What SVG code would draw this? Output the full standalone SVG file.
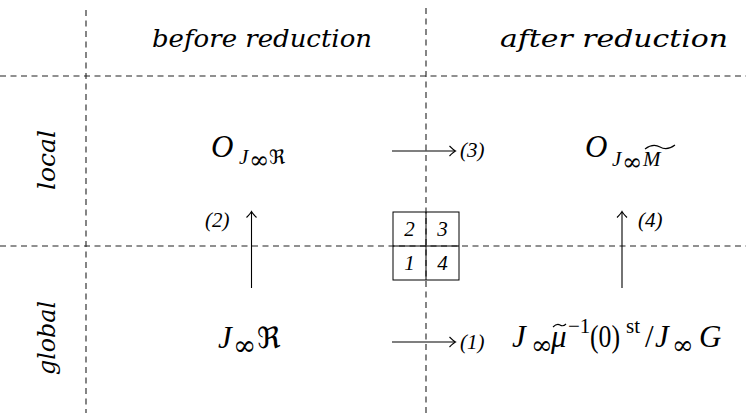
<svg xmlns="http://www.w3.org/2000/svg" width="746" height="413" viewBox="0 0 746 413">
<style>
.dash{stroke:#222;stroke-width:1.1;stroke-dasharray:6 4.5;fill:none}
.hdr{font-family:"DejaVu Serif","Liberation Serif",serif;font-style:italic;font-size:24px;fill:#000}
.m{font-family:"Liberation Serif","DejaVu Serif",serif;font-style:italic;font-size:31px;fill:#000}
.s{font-family:"Liberation Serif","DejaVu Serif",serif;font-style:italic;font-size:21px;fill:#000}
.r{font-family:"Liberation Serif","DejaVu Serif",serif;font-style:normal;font-size:31px;fill:#000}
.rs{font-family:"Liberation Serif","DejaVu Serif",serif;font-style:normal;font-size:21px;fill:#000}
.inf{font-family:"DejaVu Serif",serif;font-style:normal;fill:#000}
.fr{font-family:"DejaVu Serif","DejaVu Sans",serif;font-style:normal;fill:#000}
.lbl{font-family:"Liberation Serif","DejaVu Serif",serif;font-style:italic;font-size:21px;fill:#000}
.arr{stroke:#000;stroke-width:1.1;fill:none;marker-end:url(#to)}
.box{stroke:#000;stroke-width:1;fill:none}
.til{stroke:#000;stroke-width:1.1;fill:none}
</style>
<defs>
<marker id="to" viewBox="-7 -7 9 14" markerWidth="9" markerHeight="14" refX="0" refY="0" orient="auto" markerUnits="userSpaceOnUse">
<path d="M-5.5,-5 Q-1.5,-1 0.5,0 Q-1.5,1 -5.5,5" stroke="#000" stroke-width="1.1" fill="none"/>
</marker>
</defs>
<g id="grid">
<line class="dash" x1="86" y1="10" x2="86" y2="413"/>
<line class="dash" x1="426" y1="8" x2="426" y2="413"/>
<line class="dash" x1="0" y1="76" x2="746" y2="76"/>
<line class="dash" x1="0" y1="246" x2="746" y2="246"/>
</g>
<g id="headers">
<text class="hdr" x="152" y="47" textLength="220" lengthAdjust="spacingAndGlyphs">before reduction</text>
<text class="hdr" x="500" y="47" textLength="228" lengthAdjust="spacingAndGlyphs">after reduction</text>
<text class="hdr" transform="translate(55,160) rotate(-90)" text-anchor="middle" textLength="60" lengthAdjust="spacingAndGlyphs">local</text>
<text class="hdr" transform="translate(55,338) rotate(-90)" text-anchor="middle" textLength="74" lengthAdjust="spacingAndGlyphs">global</text>
</g>
<g id="n2">
<text class="m" x="211" y="157">O</text>
<text class="s" x="239" y="164">J</text>
<text class="inf" x="249" y="168" font-size="24">∞</text>
<text class="fr" x="269" y="164" font-size="20">ℜ</text>
</g>
<g id="n3">
<text class="m" x="585" y="157">O</text>
<text class="s" x="612" y="166">J</text>
<text class="inf" x="622" y="170" font-size="24">∞</text>
<text class="s" x="643" y="166">M</text>
<path class="til" d="M645,149 Q653,143 660,147 T675,145"/>
</g>
<g id="n1">
<text class="m" x="218" y="348">J</text>
<text class="inf" x="233" y="355" font-size="28">∞</text>
<text class="fr" x="257" y="348" font-size="29">ℜ</text>
</g>
<g id="n4">
<text class="m" x="512" y="347">J</text>
<text class="inf" x="531" y="354" font-size="26">∞</text>
<text class="m" x="551" y="347">μ</text>
<path class="til" d="M553,327 Q557,323 560,325 T566,324"/>
<text class="rs" x="568" y="333">−1</text>
<text class="r" x="590" y="347" textLength="30" lengthAdjust="spacingAndGlyphs">(0)</text>
<text class="rs" x="626" y="333">st</text>
<text class="r" x="645" y="347">/</text>
<text class="m" x="655" y="347">J</text>
<text class="inf" x="672" y="354" font-size="26">∞</text>
<text class="m" x="699" y="347">G</text>
</g>
<g id="connectors">
<line class="arr" x1="392" y1="151" x2="455" y2="151"/>
<line class="arr" x1="392" y1="342" x2="455" y2="342"/>
<line class="arr" x1="251.5" y1="288" x2="251.5" y2="212"/>
<line class="arr" x1="622" y1="288" x2="622" y2="212"/>
</g>
<g id="labels">
<text class="lbl" x="460" y="157">(3)</text>
<text class="lbl" x="460" y="349">(1)</text>
<text class="lbl" x="205" y="227">(2)</text>
<text class="lbl" x="638" y="227">(4)</text>
</g>
<g id="quadrants">
<rect class="box" x="393" y="212" width="66" height="68"/>
<line class="box" x1="426" y1="212" x2="426" y2="280"/>
<line class="box" x1="393" y1="246" x2="459" y2="246"/>
<text class="lbl" x="409.5" y="236" text-anchor="middle">2</text>
<text class="lbl" x="442.5" y="236" text-anchor="middle">3</text>
<text class="lbl" x="409.5" y="270" text-anchor="middle">1</text>
<text class="lbl" x="442.5" y="270" text-anchor="middle">4</text>
</g>
</svg>
